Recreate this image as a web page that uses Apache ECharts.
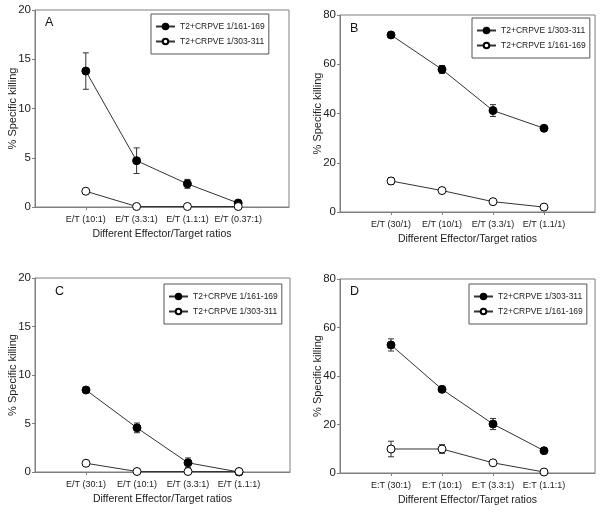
<!DOCTYPE html>
<html>
<head>
<meta charset="utf-8">
<script src="https://cdn.jsdelivr.net/npm/echarts@6/dist/echarts.min.js"></script>
<style>html,body{margin:0;padding:0;background:#fff}#c{width:600px;height:515px}</style>
</head>
<body>
<div id="c"></div>
<script>
// ---- data ----
const catsA = ['E/T (10:1)', 'E/T (3.3:1)', 'E/T (1.1:1)', 'E/T (0.37:1)'];
const catsB = ['E/T (30/1)', 'E/T (10/1)', 'E/T (3.3/1)', 'E/T (1.1/1)'];
const catsC = ['E/T (30:1)', 'E/T (10:1)', 'E/T (3.3:1)', 'E/T (1.1:1)'];
const catsD = ['E:T (30:1)', 'E:T (10:1)', 'E:T (3.3:1)', 'E:T (1.1:1)'];

const pep161 = 'T2+CRPVE 1/161-169';
const pep303 = 'T2+CRPVE 1/303-311';

const aFilled = [13.8, 4.7, 2.35, 0.4];
const aFilledErr = [1.85, 1.3, 0.45, 0];
const aOpen = [1.6, 0.05, 0.05, 0.05];
const aOpenErr = [0, 0, 0, 0];

const bFilled = [71.9, 57.9, 41.2, 34.0];
const bFilledErr = [0.8, 1.6, 2.4, 0];
const bOpen = [12.6, 8.7, 4.2, 2.0];
const bOpenErr = [1.4, 0, 0, 0];

const cFilled = [8.45, 4.55, 0.95, 0.0];
const cFilledErr = [0, 0.5, 0.5, 0];
const cOpen = [0.9, 0.05, 0.05, 0.05];
const cOpenErr = [0, 0, 0, 0];

const dFilled = [52.8, 34.5, 20.2, 9.2];
const dFilledErr = [2.5, 0, 2.3, 0];
const dOpen = [9.9, 9.9, 4.2, 0.4];
const dOpenErr = [3.2, 1.8, 0, 0];

const yTicksAC = [0, 5, 10, 15, 20];
const yTicksBD = [0, 20, 40, 60, 80];

// ---- chart ----
const FONT = '"Liberation Sans", Arial, sans-serif';
const GRAY = '#7f7f7f';
const INK = '#222';

const panels = [
  {key:'A', cats:catsA, filledName:pep161, openName:pep303, filled:aFilled, filledErr:aFilledErr, open:aOpen, openErr:aOpenErr, yt:yTicksAC,
   grid:{left:35, top:10, width:254, height:197}, legend:{left:151, top:14}, letter:[45, 16]},
  {key:'B', cats:catsB, filledName:pep303, openName:pep161, filled:bFilled, filledErr:bFilledErr, open:bOpen, openErr:bOpenErr, yt:yTicksBD,
   grid:{left:340, top:15, width:255, height:197}, legend:{left:472, top:18}, letter:[350, 22]},
  {key:'C', cats:catsC, filledName:pep161, openName:pep303, filled:cFilled, filledErr:cFilledErr, open:cOpen, openErr:cOpenErr, yt:yTicksAC,
   grid:{left:35, top:278, width:255, height:194}, legend:{left:164, top:284}, letter:[55, 285]},
  {key:'D', cats:catsD, filledName:pep303, openName:pep161, filled:dFilled, filledErr:dFilledErr, open:dOpen, openErr:dOpenErr, yt:yTicksBD,
   grid:{left:340, top:279, width:255, height:194}, legend:{left:469, top:284}, letter:[350, 285]}
];

const option = {
  animation: false,
  backgroundColor: '#fff',
  textStyle: {fontFamily: FONT},
  grid: [], xAxis: [], yAxis: [], legend: [], series: [], graphic: []
};

function errRender(params, api) {
  const x = api.value(0), y = api.value(1), e = api.value(2);
  const t = api.coord([x, y + e]);
  const b = api.coord([x, y - e]);
  const w = 3;
  const st = {stroke: '#333', lineWidth: 1};
  return {type: 'group', children: [
    {type: 'line', shape: {x1: t[0], y1: t[1], x2: b[0], y2: b[1]}, style: st},
    {type: 'line', shape: {x1: t[0] - w, y1: t[1], x2: t[0] + w, y2: t[1]}, style: st},
    {type: 'line', shape: {x1: b[0] - w, y1: b[1], x2: b[0] + w, y2: b[1]}, style: st}
  ]};
}

panels.forEach((p, i) => {
  option.grid.push(Object.assign({show: true, borderColor: GRAY, borderWidth: 1, backgroundColor: 'transparent'}, p.grid));
  const cats = p.cats;
  option.xAxis.push({
    type: 'value', gridIndex: i, min: 0, max: 5, interval: 1,
    name: 'Different Effector/Target ratios', nameLocation: 'middle', nameGap: 22, nameMoveOverlap: false,
    nameTextStyle: {fontSize: 10.5, color: INK, fontFamily: FONT},
    axisLine: {show: true, lineStyle: {color: GRAY, width: 1}},
    axisTick: {show: true, inside: false, length: 3, lineStyle: {color: GRAY}, customValues: [1, 2, 3, 4]},
    axisLabel: {show: true, fontSize: 9, color: INK, margin: 8, fontFamily: FONT, customValues: [1, 2, 3, 4],
      formatter: v => cats[Math.round(v) - 1] || ''},
    splitLine: {show: false}
  });
  const yt = p.yt;
  option.yAxis.push({
    type: 'value', gridIndex: i, min: yt[0], max: yt[yt.length - 1], interval: yt[1] - yt[0],
    name: '% Specific killing', nameLocation: 'middle', nameGap: 17, nameRotate: 90, nameMoveOverlap: false,
    nameTextStyle: {fontSize: 11, color: INK, fontFamily: FONT},
    axisLine: {show: true, lineStyle: {color: GRAY, width: 1}},
    axisTick: {show: true, inside: false, length: 3, lineStyle: {color: GRAY}},
    axisLabel: {fontSize: 11.5, color: INK, margin: 4, fontFamily: FONT},
    splitLine: {show: false}
  });
  const fName = p.key + '|' + p.filledName;
  const oName = p.key + '|' + p.openName;
  option.legend.push({
    data: [fName, oName], orient: 'vertical', left: p.legend.left, top: p.legend.top,
    itemWidth: 19, itemHeight: 7, itemGap: 6,
    padding: [8, 4, 8, 4], borderColor: '#555', borderWidth: 1, backgroundColor: '#fff',
    textStyle: {fontSize: 8.5, color: INK, fontFamily: FONT},
    formatter: n => n.split('|')[1],
    selectedMode: false
  });
  const mk = arr => arr.map((v, k) => [k + 1, v]);
  const mkErr = (vals, errs) => vals.map((v, k) => [k + 1, v, errs[k]]).filter(d => d[2] > 0);
  option.series.push({
    type: 'custom', xAxisIndex: i, yAxisIndex: i, z: 1, renderItem: errRender,
    encode: {x: 0, y: 1}, data: mkErr(p.filled, p.filledErr), clip: false, silent: true
  });
  option.series.push({
    type: 'custom', xAxisIndex: i, yAxisIndex: i, z: 1, renderItem: errRender,
    encode: {x: 0, y: 1}, data: mkErr(p.open, p.openErr), clip: false, silent: true
  });
  option.series.push({
    name: fName, type: 'line', xAxisIndex: i, yAxisIndex: i, z: 3, clip: false,
    data: mk(p.filled), symbol: 'circle', symbolSize: 8, showAllSymbol: true,
    lineStyle: {color: '#333', width: 1},
    itemStyle: {color: '#000', borderColor: '#000', borderWidth: 1}
  });
  option.series.push({
    name: oName, type: 'line', xAxisIndex: i, yAxisIndex: i, z: 4, clip: false,
    data: mk(p.open), symbol: 'circle', symbolSize: 8, showAllSymbol: true,
    lineStyle: {color: '#333', width: 1},
    itemStyle: {color: '#fff', borderColor: '#000', borderWidth: 1}
  });
  option.graphic.push({
    type: 'text', left: p.letter[0], top: p.letter[1], z: 10,
    style: {text: p.key, fontSize: 12.5, fill: '#111', fontFamily: FONT}
  });
});

const chart = echarts.init(document.getElementById('c'), null, {renderer: 'canvas'});
chart.setOption(option);
</script>
</body>
</html>
